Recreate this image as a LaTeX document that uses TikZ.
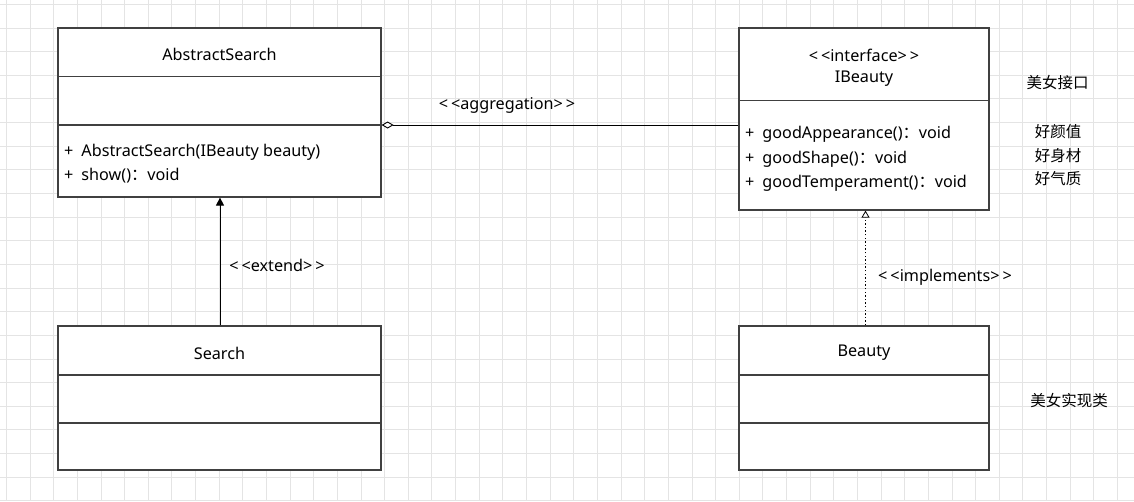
\documentclass[tikz,border=0pt]{standalone}
\usepackage{fontspec}
\setmainfont{Noto Sans}
\newfontfamily\cjk{Noto Sans CJK SC}
\usetikzlibrary{arrows.meta}
\definecolor{gridc}{HTML}{E4E4E4}
\definecolor{boxc}{HTML}{404040}
\tikzset{
  x=1pt, y=-1pt,
  classbox/.style={draw=boxc, line width=1.2pt, fill=white, rectangle, inner sep=0pt},
  divider/.style={draw=boxc, line width=1.2pt},
  lbl/.style={font=\fontsize{16.2}{19}\selectfont, inner sep=0pt, text=black, yshift=-1.5pt},
  cjklbl/.style={font=\cjk\fontsize{15.5}{18}\selectfont, inner sep=0pt, text=black},
  conn/.style={draw=black, line width=0.9pt},
}
\newcommand{\dl}{<\kern3pt<}
\newcommand{\dr}{>\kern3pt>}
\newcommand{\pl}{+\kern8pt}
\begin{document}
\begin{tikzpicture}
\useasboundingbox (0,0) rectangle (1134,501);
\fill[white] (0,0) rectangle (1134,501);
% grid
\foreach \k in {-2,...,48} {
  \draw[gridc, line width=0.8pt] ({30+23.64*\k},0) -- ({30+23.64*\k},501);
}
\foreach \k in {0,...,21} {
  \draw[gridc, line width=0.8pt] (0,{4.3+23.64*\k}) -- (1134,{4.3+23.64*\k});
}
% classes
\node[classbox, minimum width=323pt, minimum height=169pt] (as) at (219.5,112.5) {};
\node[classbox, minimum width=323pt, minimum height=144pt] (se) at (219.5,398) {};
\node[classbox, minimum width=250pt, minimum height=182pt] (ib) at (864,119) {};
\node[classbox, minimum width=250pt, minimum height=144pt] (be) at (864,398) {};
% dividers
\coordinate (asd1) at (58,76.5);
\coordinate (asd2) at (58,125);
\draw[divider] (as.west |- asd1) -- (as.east |- asd1);
\draw[divider] (as.west |- asd2) -- (as.east |- asd2);
\coordinate (sed1) at (58,375);
\coordinate (sed2) at (58,423);
\draw[divider] (se.west |- sed1) -- (se.east |- sed1);
\draw[divider] (se.west |- sed2) -- (se.east |- sed2);
\coordinate (ibd1) at (739,100.5);
\draw[divider] (ib.west |- ibd1) -- (ib.east |- ibd1);
\draw[divider] (be.west |- sed1) -- (be.east |- sed1);
\draw[divider] (be.west |- sed2) -- (be.east |- sed2);
% texts
\node[lbl] (tas) at (219.5,52.5) {AbstractSearch};
\node[lbl, anchor=west] (m1) at (64,150.5) {\pl AbstractSearch(IBeauty beauty)};
\node[lbl, anchor=west] (m2) at (64,174.5) {\pl show()\cjk：\normalfont void};
\node[lbl] (tse) at (219.5,351.5) {Search};
\node[lbl] (tst) at (864,53.5) {\dl interface\dr};
\node[lbl] (tib) at (864,77.5) {IBeauty};
\node[lbl, anchor=west] (i1) at (745,133) {\pl goodAppearance()\cjk：\normalfont void};
\node[lbl, anchor=west] (i2) at (745,157.5) {\pl goodShape()\cjk：\normalfont void};
\node[lbl, anchor=west] (i3) at (745,181.5) {\pl goodTemperament()\cjk：\normalfont void};
\node[lbl] (tbe) at (864,351.5) {Beauty};
% connectors
\draw[conn, {Diamond[open, length=12pt, width=7pt]}-] (as.east |- asd2) -- (ib.west |- asd2);
\node[lbl] (lagg) at (507,103.5) {\dl aggregation\dr};
\draw[conn, -{Triangle[length=8pt, width=8pt]}] (se.north -| 220,0) -- (as.south -| 220,0);
\node[lbl] (lext) at (277,264) {\dl extend\dr};
\draw[conn, dash pattern=on 1.4pt off 2.2pt, -{Triangle[open, length=7pt, width=8pt, line width=0.8pt]}] (be.north -| 865.5,0) -- (ib.south -| 865.5,0);
\node[lbl] (limp) at (945,275.5) {\dl implements\dr};
% notes
\node[cjklbl] (n1) at (1057.5,83) {美女接口};
\node[cjklbl] (n2) at (1058,131.5) {好颜值};
\node[cjklbl] (n3) at (1058,155.5) {好身材};
\node[cjklbl] (n4) at (1058,178.5) {好气质};
\node[cjklbl] (n5) at (1069,400.5) {美女实现类};
\end{tikzpicture}
\end{document}
